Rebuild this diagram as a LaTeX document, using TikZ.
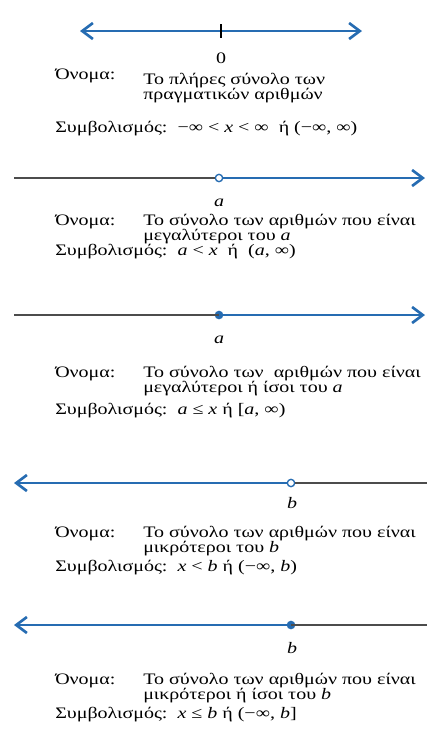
\documentclass[tikz,border=0pt]{standalone}
\usepackage{fontspec}
\setmainfont{Liberation Serif}[FakeStretch=1.25]
\usetikzlibrary{arrows.meta}
\definecolor{lineblue}{RGB}{38,108,178}
\tikzset{
	ray/.style={line width=2pt,draw=lineblue},
	rest/.style={line width=1.2pt,draw=black!70},
	openpt/.style={circle,draw=lineblue,fill=white,line width=1pt,inner sep=0pt,minimum size=5.5pt},
	fullpt/.style={circle,fill=lineblue,inner sep=0pt,minimum size=6.5pt},
	txt/.style={anchor=base west,inner sep=0pt,align=left,yshift=-1.5pt},
	lbl/.style={anchor=base,inner sep=0pt},
}
\begin{document}
\begin{tikzpicture}[>={Straight Barb[length=8pt,width=12pt]},x=.75pt,y=-.75pt,font=\fontsize{12}{11.25}\selectfont]
	\useasboundingbox (0,0) rectangle (427,740);
	% ola ta R
	\coordinate (L1) at (80,31); \coordinate (R1) at (362,31); \coordinate (O) at (221,31);
	\draw[ray,<->] (L1)--(R1);
	\draw[line width=1pt] ([yshift=-5pt]O)--([yshift=5pt]O);
	\node[lbl] (zero) at (221,63) {0};
	\node[txt] (n1) at (55,77) {Όνομα:};
	\node[txt] (d1) at (143,97) {Το πλήρες σύνολο των\\πραγματικών αριθμών};
	\node[txt] (s1) at (55,130) {Συμβολισμός:\ \ −∞ < \textit{x} < ∞\ \ ή (−∞, ∞)};
	% x > a
	\coordinate (L2) at (14,178); \coordinate (R2) at (425,178);
	\node[openpt] (A2) at (219,178) {};
	\draw[rest] (L2)--(A2.west);
	\draw[ray,->] (A2.east)--(R2);
	\node[lbl] (a2) at (219,206) {\textit{a}};
	\node[txt] (n2) at (55,223) {Όνομα:};
	\node[txt] (d2) at (143,238) {Το σύνολο των αριθμών που είναι\\μεγαλύτεροι του \textit{a}};
	\node[txt] (s2) at (55,253) {Συμβολισμός:\ \ \textit{a} < \textit{x}\ \ ή\ \ (\textit{a}, ∞)};
	% x >= a
	\coordinate (L3) at (14,315); \coordinate (R3) at (425,315);
	\node[fullpt] (A3) at (219,315) {};
	\draw[rest] (L3)--(A3.center);
	\draw[ray,->] (A3.center)--(R3);
	\node[lbl] (a3) at (219,343) {\textit{a}};
	\node[txt] (n3) at (55,375) {Όνομα:};
	\node[txt] (d3) at (143,390) {Το σύνολο των\ \ αριθμών που είναι\\μεγαλύτεροι ή ίσοι του \textit{a}};
	\node[txt] (s3) at (55,412) {Συμβολισμός:\ \ \textit{a} ≤ \textit{x} ή [\textit{a}, ∞)};
	% x < b
	\coordinate (L4) at (14,483); \coordinate (R4) at (427,483);
	\node[openpt] (B4) at (291,483) {};
	\draw[ray,->] (B4.west)--(L4);
	\draw[rest] (B4.east)--(R4);
	\node[lbl] (b4) at (292,508) {\textit{b}};
	\node[txt] (n4) at (55,535) {Όνομα:};
	\node[txt] (d4) at (143,550) {Το σύνολο των αριθμών που είναι\\μικρότεροι του \textit{b}};
	\node[txt] (s4) at (55,569) {Συμβολισμός:\ \ \textit{x} < \textit{b} ή (−∞, \textit{b})};
	% x <= b
	\coordinate (L5) at (14,625); \coordinate (R5) at (427,625);
	\node[fullpt] (B5) at (291,625) {};
	\draw[ray,->] (B5.center)--(L5);
	\draw[rest] (B5.center)--(R5);
	\node[lbl] (b5) at (292,653) {\textit{b}};
	\node[txt] (n5) at (55,682) {Όνομα:};
	\node[txt] (d5) at (143,697) {Το σύνολο των αριθμών που είναι\\μικρότεροι ή ίσοι του \textit{b}};
	\node[txt] (s5) at (55,716) {Συμβολισμός:\ \ \textit{x} ≤ \textit{b} ή (−∞, \textit{b}]};
\end{tikzpicture}
\end{document}
